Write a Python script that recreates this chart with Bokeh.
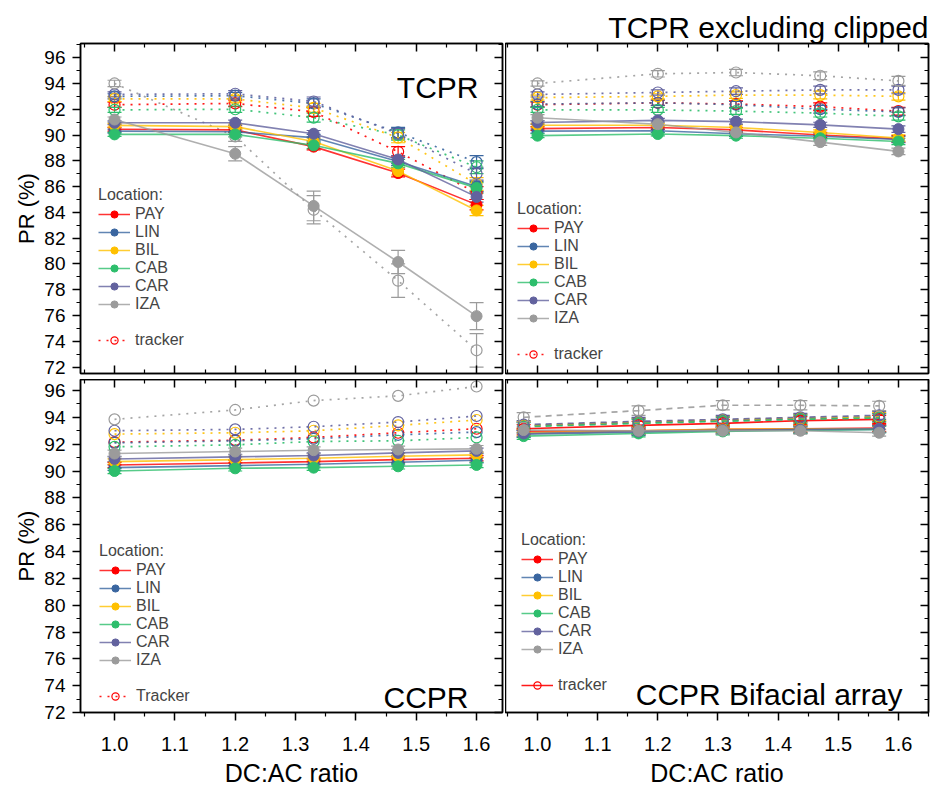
from bokeh.plotting import figure
from bokeh.models import (ColumnDataSource, Range1d, LinearAxis, FixedTicker,
                          PrintfTickFormatter, Whisker, TeeHead, Legend, LegendItem, Label)
from bokeh.layouts import column, row
from bokeh.embed import file_html
from bokeh.resources import INLINE

FONT = "Liberation Sans"

# ---------------- data ----------------
LOCATIONS = ["PAY", "LIN", "BIL", "CAB", "CAR", "IZA"]
COLORS = ["#FF0000", "#3A66A0", "#FFC000", "#2DBE6C", "#62629E", "#9B9B9B"]

DCAC = [1.0, 1.2, 1.33, 1.47, 1.6]
DCAC_BIFACIAL = [0.977, 1.168, 1.308, 1.437, 1.568]

X_TICKS = [1.0, 1.1, 1.2, 1.3, 1.4, 1.5, 1.6]
X_MINOR = [0.95, 1.05, 1.15, 1.25, 1.35, 1.45, 1.55, 1.65]
Y_TICKS = [72, 74, 76, 78, 80, 82, 84, 86, 88, 90, 92, 94, 96]
Y_MINOR = [73, 75, 77, 79, 81, 83, 85, 87, 89, 91, 93, 95, 97]

# TCPR (top left)
TCPR_FIXED = {
    "PAY": [90.45, 90.40, 89.10, 87.05, 84.60],
    "LIN": [90.30, 90.25, 89.80, 87.95, 86.00],
    "BIL": [90.75, 90.65, 89.50, 87.20, 84.15],
    "CAB": [90.05, 90.05, 89.20, 87.80, 85.90],
    "CAR": [90.95, 90.95, 90.10, 88.10, 85.20],
    "IZA": [91.20, 88.55, 84.50, 80.15, 75.95],
}
TCPR_TRACKER = {
    "PAY": [92.35, 92.45, 91.80, 88.70, 85.50],
    "LIN": [93.00, 93.05, 92.45, 90.20, 87.90],
    "BIL": [92.80, 92.80, 92.10, 89.80, 86.20],
    "CAB": [91.95, 92.00, 91.35, 90.00, 87.50],
    "CAR": [93.15, 93.20, 92.60, 90.10, 87.00],
    "IZA": [94.00, 89.90, 84.20, 78.70, 73.30],
}
TCPR_FIXED_ERR = [0.15, 0.20, 0.25, 0.30, 0.40]
TCPR_TRACKER_ERR = [0.20, 0.25, 0.35, 0.40, 0.50]
TCPR_IZA_FIXED_ERR = [0.20, 0.55, 1.15, 0.90, 1.05]
TCPR_IZA_TRACKER_ERR = [0.25, 0.40, 1.10, 1.30, 1.30]

# TCPR excluding clipped (top right)
TCPRX_FIXED = {
    "PAY": [90.50, 90.58, 90.40, 90.00, 89.70],
    "LIN": [90.30, 90.33, 90.10, 89.90, 89.65],
    "BIL": [90.76, 90.76, 90.58, 90.20, 89.77],
    "CAB": [89.95, 90.08, 89.95, 89.75, 89.50],
    "CAR": [90.97, 91.14, 91.04, 90.79, 90.46],
    "IZA": [91.34, 90.84, 90.20, 89.45, 88.73],
}
TCPRX_TRACKER = {
    "PAY": [92.35, 92.50, 92.40, 92.20, 91.85],
    "LIN": [92.40, 92.50, 92.35, 92.00, 91.80],
    "BIL": [92.90, 93.00, 93.10, 93.10, 93.00],
    "CAB": [91.95, 91.95, 91.85, 91.70, 91.45],
    "CAR": [93.15, 93.30, 93.40, 93.50, 93.50],
    "IZA": [94.00, 94.75, 94.85, 94.60, 94.20],
}
TCPRX_FIXED_ERR = [0.15, 0.15, 0.20, 0.20, 0.25]
TCPRX_TRACKER_ERR = [0.20, 0.20, 0.25, 0.30, 0.30]
TCPRX_IZA_FIXED_ERR = [0.25, 0.20, 0.20, 0.25, 0.25]
TCPRX_IZA_TRACKER_ERR = [0.20, 0.25, 0.25, 0.30, 0.35]

# CCPR (bottom left)
CCPR_FIXED = {
    "PAY": [90.45, 90.60, 90.70, 90.85, 90.95],
    "LIN": [90.25, 90.40, 90.50, 90.65, 90.80],
    "BIL": [90.70, 90.85, 90.95, 91.10, 91.20],
    "CAB": [90.00, 90.20, 90.25, 90.35, 90.45],
    "CAR": [90.90, 91.05, 91.15, 91.35, 91.50],
    "IZA": [91.30, 91.45, 91.55, 91.60, 91.65],
}
CCPR_TRACKER = {
    "PAY": [92.15, 92.30, 92.50, 92.85, 93.15],
    "LIN": [92.10, 92.25, 92.40, 92.70, 92.90],
    "BIL": [92.75, 92.85, 93.00, 93.40, 93.80],
    "CAB": [91.80, 91.95, 92.20, 92.25, 92.50],
    "CAR": [93.00, 93.10, 93.30, 93.65, 94.10],
    "IZA": [93.85, 94.55, 95.25, 95.60, 96.30],
}
CCPR_FIXED_ERR = [0.20, 0.20, 0.20, 0.20, 0.20]
CCPR_TRACKER_ERR = [0.0, 0.0, 0.0, 0.0, 0.0]
CCPR_IZA_FIXED_ERR = [0.25, 0.25, 0.25, 0.25, 0.25]
CCPR_IZA_TRACKER_ERR = [0.0, 0.0, 0.0, 0.0, 0.0]

# CCPR bifacial array (bottom right)
BIF_FIXED = {
    "PAY": [92.95, 93.00, 93.10, 93.15, 93.20],
    "LIN": [92.75, 92.90, 93.00, 93.05, 93.10],
    "BIL": [92.85, 93.00, 93.10, 93.15, 93.15],
    "CAB": [92.60, 92.80, 92.95, 93.05, 93.10],
    "CAR": [92.80, 92.95, 93.05, 93.10, 93.15],
    "IZA": [93.05, 93.00, 93.00, 93.00, 92.85],
}
BIF_TRACKER = {
    "PAY": [93.15, 93.40, 93.55, 93.75, 93.85],
    "LIN": [93.35, 93.60, 93.75, 93.90, 94.00],
    "BIL": [93.40, 93.65, 93.80, 93.95, 94.05],
    "CAB": [93.30, 93.55, 93.70, 93.85, 93.95],
    "CAR": [93.45, 93.70, 93.85, 94.00, 94.15],
    "IZA": [94.00, 94.50, 94.90, 94.90, 94.85],
}
BIF_FIXED_ERR = [0.25, 0.25, 0.25, 0.25, 0.25]
BIF_TRACKER_ERR = [0.30, 0.30, 0.30, 0.30, 0.30]
BIF_IZA_FIXED_ERR = [0.25, 0.25, 0.25, 0.25, 0.25]
BIF_IZA_TRACKER_ERR = [0.35, 0.35, 0.35, 0.35, 0.35]

DOT = "2 6"


def style_axis(ax, out, labelled, major=8, minor=4):
    ax.axis_line_color = "black"
    ax.axis_line_width = 1.5
    ax.major_tick_line_color = "black"
    ax.minor_tick_line_color = "black"
    ax.major_tick_line_width = 1.5
    ax.minor_tick_line_width = 1.2
    if out:
        ax.major_tick_out, ax.major_tick_in = major, 0
        ax.minor_tick_out, ax.minor_tick_in = minor, 0
    else:
        ax.major_tick_out, ax.major_tick_in = 0, major
        ax.minor_tick_out, ax.minor_tick_in = 0, minor
    if labelled:
        ax.major_label_text_font = FONT
        ax.major_label_text_color = "black"
        ax.axis_label_text_font = FONT
        ax.axis_label_text_font_style = "normal"
        ax.axis_label_text_color = "black"
    else:
        ax.major_label_text_color = None
        ax.major_label_text_font_size = "1px"
        ax.major_label_standoff = 0
        ax.axis_label = None


def add_err(p, xs, ys, errs, color, size):
    if max(errs) <= 0:
        return
    src = ColumnDataSource(dict(x=xs, upper=[y + e for y, e in zip(ys, errs)],
                                lower=[y - e for y, e in zip(ys, errs)]))
    w = Whisker(source=src, base="x", upper="upper", lower="lower",
                line_color=color, line_width=1.2, level="underlay",
                upper_head=TeeHead(size=size, line_color=color, line_width=1.2),
                lower_head=TeeHead(size=size, line_color=color, line_width=1.2))
    p.add_layout(w)


def make_panel(xs, fixed, tracker, ferr, terr, iza_ferr, iza_terr, x_range, y_range,
               fw, fh, left, right, top, bottom, left_labels, bottom_labels,
               tracker_dash, pay_tracker_dash, tracker_label, legend_loc):
    p = figure(frame_width=fw, frame_height=fh, x_range=Range1d(*x_range),
               y_range=Range1d(*y_range), output_backend="svg", toolbar_location=None,
               x_axis_location=None, y_axis_location=None,
               min_border_left=left, min_border_right=right,
               min_border_top=top, min_border_bottom=bottom)
    p.grid.visible = False
    p.outline_line_color = "black"
    p.outline_line_width = 1.5
    p.background_fill_color = "white"
    p.border_fill_color = "white"

    xt = FixedTicker(ticks=X_TICKS, minor_ticks=X_MINOR)
    yt = FixedTicker(ticks=Y_TICKS, minor_ticks=Y_MINOR)

    if left_labels:
        ax = LinearAxis(ticker=yt, axis_label="PR (%)")
        style_axis(ax, True, True)
        ax.major_label_text_font_size = "19px"
        ax.major_label_standoff = 7
        ax.axis_label_text_font_size = "22px"
        ax.axis_label_standoff = 2
        p.add_layout(ax, "left")
    ax = LinearAxis(ticker=yt)
    style_axis(ax, False, False)
    p.add_layout(ax, "right")
    ax = LinearAxis(ticker=xt)
    style_axis(ax, False, False)
    p.add_layout(ax, "above")
    if bottom_labels:
        ax = LinearAxis(ticker=xt, axis_label="DC:AC ratio",
                        formatter=PrintfTickFormatter(format="%.1f"))
        style_axis(ax, True, True)
        ax.major_label_text_font_size = "20px"
        ax.major_label_standoff = 16
        ax.axis_label_text_font_size = "25px"
        ax.axis_label_standoff = 5
        p.add_layout(ax, "below")
    else:
        ax = LinearAxis(ticker=xt)
        style_axis(ax, False, False)
        p.add_layout(ax, "below")

    fixed_items = []
    tracker_pay = None
    for loc, c in zip(LOCATIONS, COLORS):
        ys = tracker[loc]
        add_err(p, xs, ys, iza_terr if loc == "IZA" else terr, c, 14)
        dash = pay_tracker_dash if loc == "PAY" else tracker_dash
        ln = p.line(xs, ys, line_color=c, line_width=1.7, line_dash=dash, line_alpha=0.9)
        sc = p.scatter(xs, ys, marker="circle", size=11, fill_alpha=0,
                       line_color=c, line_width=1.2)
        if loc == "PAY":
            tracker_pay = [ln, sc]
    for loc, c in zip(LOCATIONS, COLORS):
        ys = fixed[loc]
        add_err(p, xs, ys, iza_ferr if loc == "IZA" else ferr, c, 14)
        ln = p.line(xs, ys, line_color=c, line_width=1.6, line_alpha=0.8)
        sc = p.scatter(xs, ys, marker="circle", size=11, fill_color=c, line_color=c)
        fixed_items.append(LegendItem(label=loc, renderers=[ln, sc]))

    blank = p.line(xs, fixed["PAY"], line_alpha=0)
    items = fixed_items + [LegendItem(label=" ", renderers=[blank]),
                           LegendItem(label=tracker_label, renderers=tracker_pay)]
    lg = Legend(items=items, location=legend_loc, title="Location:",
                border_line_alpha=0, background_fill_alpha=0,
                padding=0, margin=0, spacing=0, glyph_width=32, glyph_height=18,
                label_height=18, label_standoff=5,
                label_text_font=FONT, label_text_font_size="16px",
                title_text_font=FONT, title_text_font_size="16px",
                title_text_font_style="normal", title_standoff=1)
    p.add_layout(lg)
    return p


def add_text(p, text, x, y, size="30px"):
    p.add_layout(Label(x=x, y=y, x_units="screen", y_units="screen", text=text,
                       text_align="right", text_baseline="alphabetic",
                       text_font=FONT, text_font_size=size, text_color="black"))


TOP_Y = (71.5, 97.1)
BOTTOM_Y = (72, 96.82)

p1 = make_panel(DCAC, TCPR_FIXED, TCPR_TRACKER, TCPR_FIXED_ERR, TCPR_TRACKER_ERR,
                TCPR_IZA_FIXED_ERR, TCPR_IZA_TRACKER_ERR, (0.9436, 1.643), TOP_Y,
                422, 330, 80, 3, 43, 6, True, False, DOT, DOT, "tracker", (18, 24))
add_text(p1, "TCPR", 398, 286)

p2 = make_panel(DCAC, TCPRX_FIXED, TCPRX_TRACKER, TCPRX_FIXED_ERR, TCPRX_TRACKER_ERR,
                TCPRX_IZA_FIXED_ERR, TCPRX_IZA_TRACKER_ERR, (0.9468, 1.65), TOP_Y,
                423, 330, 0, 2, 43, 6, False, False, DOT, DOT, "tracker", (12, 10))
p2.title.text = "TCPR excluding clipped"
p2.title.align = "right"
p2.title.text_font = FONT
p2.title.text_font_size = "30px"
p2.title.text_font_style = "normal"
p2.title.text_color = "black"
p2.title.standoff = 0

p3 = make_panel(DCAC, CCPR_FIXED, CCPR_TRACKER, CCPR_FIXED_ERR, CCPR_TRACKER_ERR,
                CCPR_IZA_FIXED_ERR, CCPR_IZA_TRACKER_ERR, (0.9436, 1.643), BOTTOM_Y,
                422, 333, 80, 3, 0, 79, True, True, DOT, DOT, "Tracker", (19, 7))
add_text(p3, "CCPR", 388, 15)

p4 = make_panel(DCAC_BIFACIAL, BIF_FIXED, BIF_TRACKER, BIF_FIXED_ERR, BIF_TRACKER_ERR,
                BIF_IZA_FIXED_ERR, BIF_IZA_TRACKER_ERR, (0.9468, 1.65), BOTTOM_Y,
                423, 333, 0, 2, 0, 79, False, True, "6 5", "solid", "tracker", (16, 18))
add_text(p4, "CCPR Bifacial array", 397, 18)

layout = column(row(p1, p2), row(p3, p4))
open("out.html", "w").write(file_html(layout, INLINE))
